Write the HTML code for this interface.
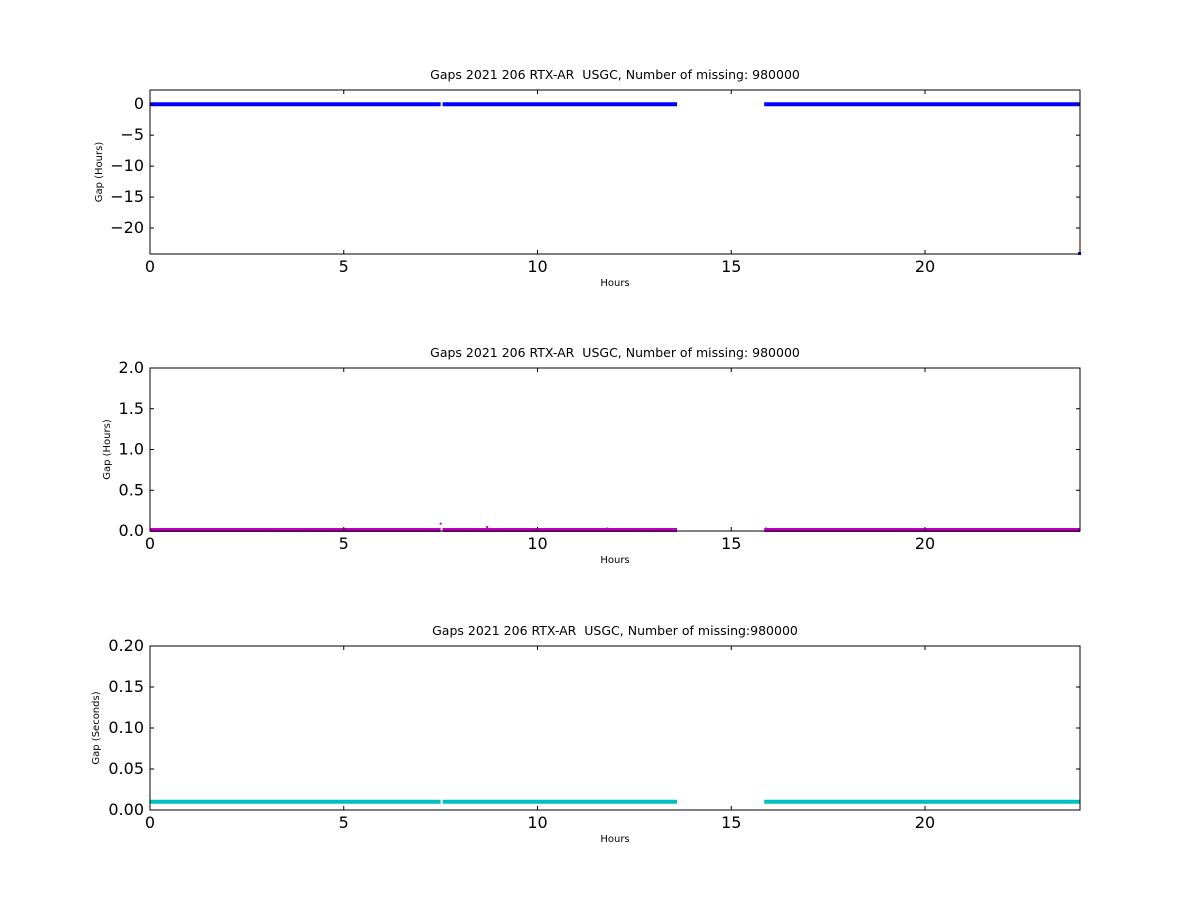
<!DOCTYPE html>
<html><head><meta charset="utf-8"><style>
body{margin:0;background:#fff;font-family:"Liberation Sans",sans-serif}
svg text{font-family:"DejaVu Sans","Liberation Sans",sans-serif;white-space:pre}
</style></head><body>
<svg id="fig" width="1200" height="900"></svg>
<script>
const segStarts=[0,7.55,15.85];
const segEnds=[7.5,13.6,24];
const p1Value=0;
const p2Value=0.012;
const p3Value=0.01;
const spikeHours=[3.2,3.9,7.5,8.7,11.8,13.0,15.9];
const spikeValues=[0.02,0.02,0.09,0.05,0.03,0.02,0.03];
const xTicks=[0,5,10,15,20];
const p1Ticks=[0,-5,-10,-15,-20];
const p2Ticks=[0,0.5,1.0,1.5,2.0];
const p2TickLabels=["0.0","0.5","1.0","1.5","2.0"];
const p3Ticks=[0,0.05,0.1,0.15,0.2];
const p3TickLabels=["0.00","0.05","0.10","0.15","0.20"];
const ns="http://www.w3.org/2000/svg";
const svg=document.getElementById('fig');
function mk(t,a,p){const e=document.createElementNS(ns,t);for(const k in a)e.setAttribute(k,a[k]);(p||svg).appendChild(e);return e;}
const L=150,R=1080,xmax=24;
const X=h=>L+h/xmax*(R-L);
function panel(o){
 const g=mk('g',{});
 
 
 const Y=v=>o.bot-(v-o.ymin)/(o.ymax-o.ymin)*(o.bot-o.top);
 for(let i=0;i<segStarts.length;i++){
  const l=mk('line',{x1:X(segStarts[i]),x2:X(segEnds[i]),y1:Y(o.val),y2:Y(o.val),stroke:o.color,'stroke-width':o.lw},g);
  
  
 }
 if(o.spikes){spikeHours.forEach((h,i)=>{
  const r=mk('rect',{x:X(h)-1,y:Y(spikeValues[i])-1,width:2,height:2,fill:o.color},g);
  
  
 });}
 if(o.endDot){const r=mk('rect',{x:R-2,y:o.bot-2,width:3,height:3,fill:o.color},g);
  
  }
 const f=mk('rect',{x:L,y:o.top,width:R-L,height:o.bot-o.top,fill:'none',stroke:'#000','stroke-width':1},g);
 
 
 xTicks.forEach(t=>{
  mk('line',{x1:X(t),x2:X(t),y1:o.bot,y2:o.bot-4,stroke:'#000'},g);
  mk('line',{x1:X(t),x2:X(t),y1:o.top,y2:o.top+4,stroke:'#000'},g);
  const tx=mk('text',{x:X(t),y:o.bot+18,'text-anchor':'middle','font-size':16},g);tx.textContent=t;
  
  
 });
 o.ticks.forEach((t,i)=>{
  mk('line',{x1:L,x2:L+4,y1:Y(t),y2:Y(t),stroke:'#000'},g);
  mk('line',{x1:R,x2:R-4,y1:Y(t),y2:Y(t),stroke:'#000'},g);
  const tx=mk('text',{x:L-6,y:Y(t)+5,'text-anchor':'end','font-size':16},g);tx.textContent=o.labels?o.labels[i]:(t<0?'\u2212'+(-t):t);
  
  
 });
 const ti=mk('text',{x:(L+R)/2,y:o.top-11,'text-anchor':'middle','font-size':12.5},g);ti.textContent=o.title;
 
 
 const xl=mk('text',{x:(L+R)/2,y:o.bot+32,'text-anchor':'middle','font-size':10},g);xl.textContent='Hours';
 
 
 const yc=(o.top+o.bot)/2;
 const yl=mk('text',{x:o.ylx,y:yc,'text-anchor':'middle','font-size':10,transform:`rotate(-90 ${o.ylx} ${yc})`},g);yl.textContent=o.ylabel;
 
 
}
panel({name:'panel-gaps-hours-full',top:90,bot:254,ymin:-24.2,ymax:2.3,val:p1Value,color:'#0000ff',lw:4,ticks:p1Ticks,endDot:true,title:'Gaps 2021 206 RTX-AR  USGC, Number of missing: 980000',ylabel:'Gap (Hours)',ylx:102});
panel({name:'panel-gaps-hours-zoom',top:368,bot:531,ymin:0,ymax:2,val:p2Value,color:'#bf00bf',lw:4,ticks:p2Ticks,labels:p2TickLabels,spikes:true,title:'Gaps 2021 206 RTX-AR  USGC, Number of missing: 980000',ylabel:'Gap (Hours)',ylx:110});
panel({name:'panel-gaps-seconds',top:646,bot:810,ymin:0,ymax:0.2,val:p3Value,color:'#00bfbf',lw:4,ticks:p3Ticks,labels:p3TickLabels,title:'Gaps 2021 206 RTX-AR  USGC, Number of missing:980000',ylabel:'Gap (Seconds)',ylx:99});
</script>
</body></html>
